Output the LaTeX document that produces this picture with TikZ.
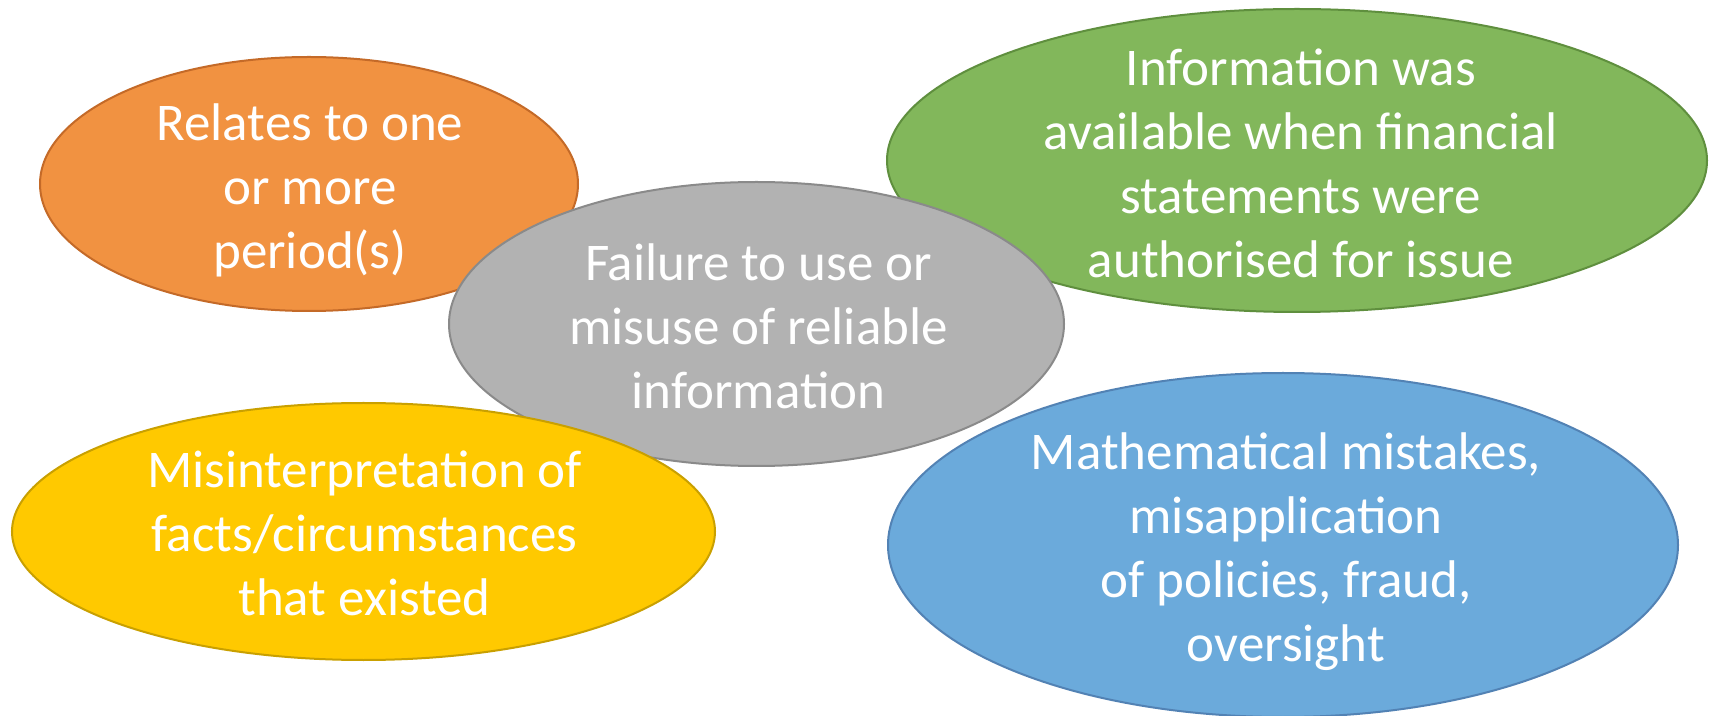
\documentclass[tikz,border=0pt]{standalone}
\usepackage{fontspec}
\setmainfont{Carlito}
\usetikzlibrary{shapes.geometric}
\definecolor{orfill}{HTML}{F19241}
\definecolor{ordraw}{HTML}{C46A28}
\definecolor{grfill}{HTML}{82B75B}
\definecolor{grdraw}{HTML}{5F8F3E}
\definecolor{gyfill}{HTML}{B2B2B2}
\definecolor{gydraw}{HTML}{8A8A8A}
\definecolor{ylfill}{HTML}{FFC900}
\definecolor{yldraw}{HTML}{C9A000}
\definecolor{blfill}{HTML}{6BAADB}
\definecolor{bldraw}{HTML}{5282B4}
\tikzset{
  ell/.style={ellipse, inner sep=0pt, line width=1pt},
  txt/.style={text=white, align=center, inner sep=0pt,
    font=\fontsize{26.5pt}{32pt}\selectfont}
}
\begin{document}
\begin{tikzpicture}
\useasboundingbox[fill=white] (0,0) rectangle (854.5pt,-358pt);
\begin{scope}
\clip (0,0) rectangle (854.5pt,-358pt);
% orange
\node[ell, fill=orfill, draw=ordraw, minimum width=269pt, minimum height=127pt] (or) at (154.5pt,-92pt) {};
\node[txt] (ort) at (155pt,-95pt) {Relates to one\\or more\\period(s)};
% green
\node[ell, fill=grfill, draw=grdraw, minimum width=410pt, minimum height=151.5pt] (gr) at (648.5pt,-80.25pt) {};
\node[txt] (grt) at (650.4pt,-81.5pt) {Information was\\available when financial\\statements were\\authorised for issue};
% gray
\node[ell, fill=gyfill, draw=gydraw, minimum width=307.5pt, minimum height=142pt] (gy) at (378.25pt,-162pt) {};
\node[txt] (gyt) at (379.3pt,-162.9pt) {Failure to use or\\misuse of reliable\\information};
% yellow
\node[ell, fill=ylfill, draw=yldraw, minimum width=351.5pt, minimum height=128.5pt] (yl) at (181.75pt,-265.75pt) {};
\node[txt] (ylt) at (182.3pt,-266.5pt) {Misinterpretation of\\facts/circumstances\\that existed};
% blue
\node[ell, fill=blfill, draw=bldraw, minimum width=395pt, minimum height=172pt] (bl) at (641.5pt,-272.5pt) {};
\node[txt] (blt) at (643pt,-276pt) {Mathematical mistakes,\\misapplication\\of policies, fraud,\\oversight};
\end{scope}
\end{tikzpicture}
\end{document}
